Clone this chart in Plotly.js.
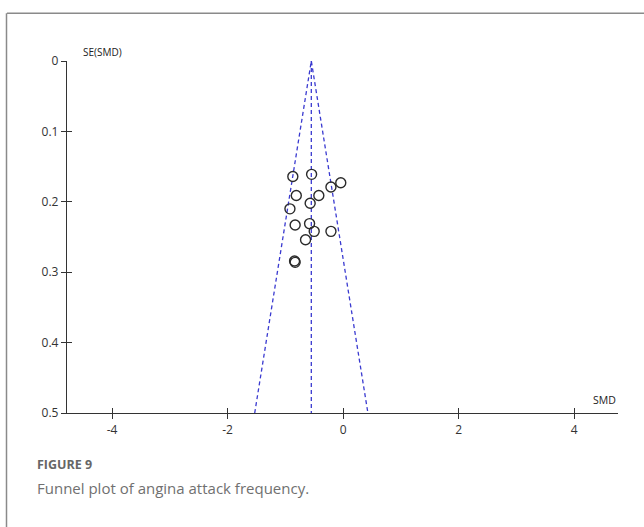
<!DOCTYPE html>
<html>
<head>
<meta charset="utf-8">
<script src="https://cdn.plot.ly/plotly-3.0.1.min.js"></script>
<style>
html,body{margin:0;padding:0;background:#fff;}
#chart{width:644px;height:527px;}
</style>
</head>
<body>
<div id="chart"></div>
<script>
// Study estimates (standardised mean difference) and their standard errors
const smd = [-0.87, -0.545, -0.21, -0.04, -0.81, -0.42, -0.57, -0.92, -0.83, -0.58, -0.50, -0.21, -0.65, -0.84, -0.83];
const se  = [0.164, 0.161, 0.179, 0.173, 0.191, 0.191, 0.202, 0.210, 0.233, 0.231, 0.242, 0.242, 0.254, 0.284, 0.286];
const pooled = -0.55;
const seMax = 0.5;
const xTicks = [-4, -2, 0, 2, 4];
const xTickText = ["-4", "-2", "0", "2", "4"];
const yTicks = [0, 0.1, 0.2, 0.3, 0.4, 0.5];
const yTickText = ["0", "0.1", "0.2", "0.3", "0.4", "0.5"];

const funnelX = [pooled - 1.96 * seMax, pooled, pooled + 1.96 * seMax];
const funnelY = [seMax, 0, seMax];

const dashLine = {color: '#3a3ad0', width: 1.3, dash: '4px,3px'};

const traces = [
  {x: funnelX, y: funnelY, mode: 'lines', line: dashLine, hoverinfo: 'skip', showlegend: false},
  {x: [pooled, pooled], y: [0, seMax], mode: 'lines', line: dashLine, hoverinfo: 'skip', showlegend: false},
  {x: smd, y: se, mode: 'markers', showlegend: false,
   marker: {symbol: 'circle-open', size: 10, color: '#2a2a2a', line: {width: 1.4, color: '#2a2a2a'}}},
  // invisible trace on secondary axes for inward tick half
  {x: [0], y: [0], xaxis: 'x2', yaxis: 'y2', mode: 'markers', marker: {opacity: 0}, hoverinfo: 'skip', showlegend: false}
];

const axisFont = {family: 'Open Sans, Liberation Sans, sans-serif', size: 12, color: '#333'};
const xr = [-4.78, 4.76];
const yr = [0.5, 0];

const layout = {
  width: 644, height: 527,
  margin: {l: 67, r: 26, t: 61, b: 114},
  paper_bgcolor: '#fff', plot_bgcolor: '#fff',
  xaxis: {range: xr, tickvals: xTicks, ticktext: xTickText, ticks: 'outside', ticklen: 5, tickwidth: 1, tickcolor: '#333',
          showline: true, linecolor: '#333', linewidth: 1.2, showgrid: false, zeroline: false,
          tickfont: axisFont, fixedrange: true},
  yaxis: {range: yr, tickvals: yTicks, ticktext: yTickText, ticks: 'outside', ticklen: 5, tickwidth: 1, tickcolor: '#333',
          showline: true, linecolor: '#333', linewidth: 1.2, showgrid: false, zeroline: false,
          tickfont: axisFont, fixedrange: true},
  xaxis2: {range: xr, overlaying: 'x', tickvals: xTicks, ticks: 'inside', ticklen: 5, tickwidth: 1, tickcolor: '#333',
           showticklabels: false, showgrid: false, zeroline: false, showline: false, anchor: 'y2'},
  yaxis2: {range: yr, overlaying: 'y', tickvals: yTicks, ticks: 'inside', ticklen: 5, tickwidth: 1, tickcolor: '#333',
           showticklabels: false, showgrid: false, zeroline: false, showline: false, anchor: 'x2'},
  shapes: [
    {type: 'line', xref: 'paper', yref: 'paper', x0: -0.109, x1: 1.06, y0: 1.136, y1: 1.136, line: {color: '#8a8a8a', width: 1.5}},
    {type: 'line', xref: 'paper', yref: 'paper', x0: -0.1098, x1: -0.1098, y0: 1.136, y1: -0.33, line: {color: '#8a8a8a', width: 1.5}}
  ],
  annotations: [
    {text: 'SE(SMD)', xref: 'paper', yref: 'paper', x: 0.025, y: 1.0, xanchor: 'left', yanchor: 'bottom', showarrow: false,
     font: {family: 'Open Sans, Liberation Sans, sans-serif', size: 10, color: '#222'}},
    {text: 'SMD', xref: 'paper', yref: 'paper', x: 1.0, y: 0.01, xanchor: 'right', yanchor: 'bottom', showarrow: false,
     font: {family: 'Open Sans, Liberation Sans, sans-serif', size: 10.5, color: '#222'}},
    {text: '<b>FIGURE 9</b>', xref: 'paper', yref: 'paper', x: -0.058, y: -0.147, xanchor: 'left', yanchor: 'middle', showarrow: false,
     font: {family: 'Open Sans, Noto Sans, sans-serif', size: 12.5, color: '#666'}},
    {text: 'Funnel plot of angina attack frequency.', xref: 'paper', yref: 'paper', x: -0.058, y: -0.213, xanchor: 'left', yanchor: 'middle', showarrow: false,
     font: {family: 'Open Sans, Noto Sans, sans-serif', size: 15, color: '#707070'}}
  ]
};

Plotly.newPlot('chart', traces, layout, {displayModeBar: false, staticPlot: true});
</script>
</body>
</html>
